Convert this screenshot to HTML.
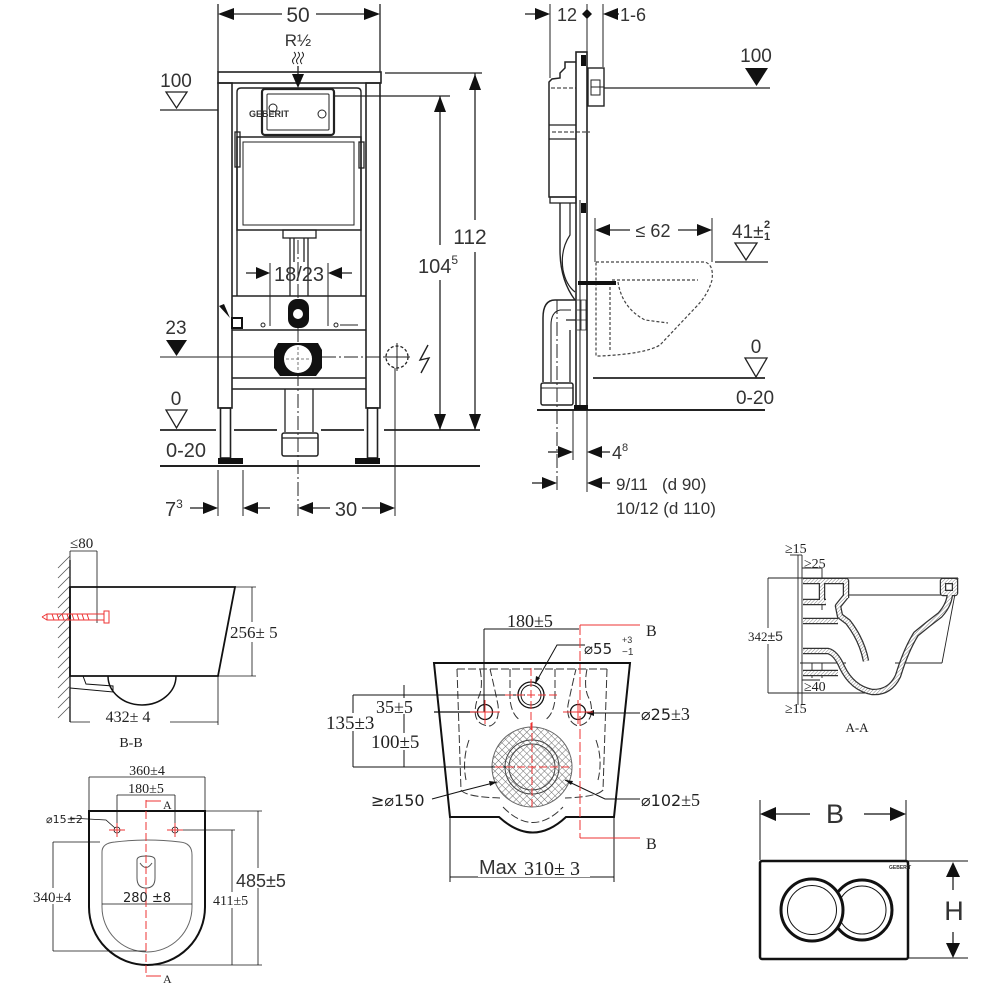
<!DOCTYPE html>
<html><head><meta charset="utf-8">
<style>html,body{margin:0;padding:0;background:#fff}svg{display:block}
.s{font-family:"Liberation Sans",Arial,sans-serif;fill:#333}
.r{font-family:"Liberation Serif","DejaVu Serif",serif;fill:#222}
.d{font-family:"DejaVu Sans","Liberation Sans",sans-serif;fill:#222}
</style></head>
<body>
<svg xmlns="http://www.w3.org/2000/svg" width="1000" height="1000" viewBox="0 0 1000 1000">
<defs>
<pattern id="xh" width="5" height="5" patternUnits="userSpaceOnUse" patternTransform="rotate(45)">
<path d="M0,0 L0,5 M0,0 L5,0" stroke="#666" stroke-width="0.9" fill="none"/>
</pattern>
<pattern id="hh" width="2.5" height="2.5" patternUnits="userSpaceOnUse" patternTransform="rotate(45)">
<rect width="2.5" height="2.5" fill="#fff"/>
<line x1="0" y1="0" x2="0" y2="2.5" stroke="#777" stroke-width="0.9"/>
</pattern>
</defs>

<!-- ================= TOP LEFT FRONT VIEW ================= -->
<g stroke="#222" stroke-width="1.3" fill="none">
 <line x1="218" y1="4" x2="218" y2="72"/>
 <line x1="380" y1="4" x2="380" y2="72"/>
 <line x1="230" y1="14" x2="282" y2="14"/>
 <line x1="316" y1="14" x2="368" y2="14"/>
 <path d="M294,52 q3,3 0,6 q-3,3 0,6 M298,52 q3,3 0,6 q-3,3 0,6 M302,52 q3,3 0,6 q-3,3 0,6" stroke-width="1"/>
 <line x1="298" y1="66" x2="298" y2="76"/>
 <rect x="218" y="72" width="163" height="11" stroke-width="1.6"/>
 <rect x="218" y="83" width="14" height="325" stroke-width="1.6"/>
 <rect x="366" y="83" width="14" height="325" stroke-width="1.6"/>
 <rect x="220.5" y="408" width="10" height="50" stroke-width="1.6"/>
 <rect x="367.5" y="408" width="10" height="50" stroke-width="1.6"/>
 <path d="M237,296 L237,92 Q237,88 241,88 L357,88 Q361,88 361,92 L361,296" stroke-width="1.4"/>
 <rect x="262" y="89" width="72" height="46" rx="3" stroke-width="2.2"/>
 <rect x="267" y="94" width="62" height="36" rx="1" stroke-width="1"/>
 <circle cx="273" cy="108" r="4" stroke-width="1"/>
 <circle cx="322" cy="114" r="4" stroke-width="1"/>
 <line x1="334" y1="96" x2="450" y2="96"/>
 <rect x="237" y="137" width="124" height="93" stroke-width="1.5"/>
 <rect x="243" y="142" width="111" height="83" stroke-width="1"/>
 <rect x="235" y="132" width="5" height="35" stroke-width="1.3"/>
 <rect x="359" y="142" width="5" height="26" stroke-width="1.3"/>
 <rect x="283" y="230" width="33" height="8" stroke-width="1.3"/>
 <line x1="290" y1="238" x2="290" y2="296"/>
 <line x1="308" y1="238" x2="308" y2="296"/>
 <line x1="294" y1="238" x2="294" y2="262"/>
 <line x1="304" y1="238" x2="304" y2="262"/>
 <line x1="232" y1="296" x2="366" y2="296" stroke-width="1.6"/>
 <line x1="232" y1="330" x2="366" y2="330" stroke-width="1.6"/>
 <line x1="232" y1="378" x2="366" y2="378" stroke-width="1.6"/>
 <line x1="232" y1="389" x2="366" y2="389" stroke-width="1.6"/>
 <line x1="270" y1="263" x2="270" y2="326" stroke-width="1"/>
 <line x1="328" y1="263" x2="328" y2="326" stroke-width="1"/>
 <line x1="246" y1="273" x2="258" y2="273"/>
 <line x1="340" y1="273" x2="352" y2="273"/>
 <circle cx="263" cy="325" r="2" stroke-width="1"/>
 <circle cx="336" cy="325" r="2" stroke-width="1"/>
 <line x1="340" y1="325" x2="358" y2="325" stroke-width="1"/>
 <line x1="285" y1="389" x2="285" y2="432"/>
 <line x1="313" y1="389" x2="313" y2="432"/>
 <rect x="282" y="433" width="36" height="23" rx="2" stroke-width="1.5"/>
 <line x1="282" y1="438" x2="318" y2="438"/>
 <line x1="298" y1="240" x2="298" y2="516" stroke-width="1" stroke-dasharray="14 3 2 3"/>
 <line x1="160" y1="357" x2="274" y2="357" stroke-width="1"/>
 <line x1="322" y1="357" x2="386" y2="357" stroke-width="1" stroke-dasharray="14 3 2 3"/>
 <circle cx="397" cy="357" r="11" stroke-dasharray="3 2" stroke-width="1.3"/>
 <line x1="397" y1="343" x2="397" y2="371" stroke-width="1"/>
 <line x1="385" y1="357" x2="410" y2="357" stroke-width="1"/>
 <path d="M428,345 L420,360 L429,358 L421,373" stroke-width="1.4"/>
 <line x1="395" y1="368" x2="395" y2="516" stroke-width="1"/>
 <polygon points="166,92 187,92 176.5,108" stroke-width="1.3"/>
 <line x1="160" y1="110" x2="218" y2="110"/>
 <polygon points="166,410 187,410 176.5,428" stroke-width="1.3"/>
 <path d="M160,430 L216,430 M234,430 L277,430 M321,430 L364,430 M384,430 L480,430" stroke-width="1.8"/>
 <line x1="160" y1="466" x2="480" y2="466" stroke-width="2"/>
 <line x1="440" y1="96" x2="440" y2="245"/>
 <line x1="440" y1="280" x2="440" y2="430"/>
 <line x1="385" y1="73" x2="482" y2="73"/>
 <line x1="475" y1="73" x2="475" y2="220"/>
 <line x1="475" y1="252" x2="475" y2="430"/>
 <line x1="218" y1="470" x2="218" y2="516" stroke-width="1"/>
 <line x1="243" y1="470" x2="243" y2="516" stroke-width="1"/>
 <line x1="190" y1="508" x2="205" y2="508"/>
 <line x1="256" y1="508" x2="270" y2="508"/>
 <line x1="310" y1="508" x2="330" y2="508"/>
 <line x1="362" y1="508" x2="383" y2="508"/>
</g>
<g fill="#111">
 <polygon points="218,14 234,8 234,20"/>
 <polygon points="380,14 364,8 364,20"/>
 <polygon points="298,88 292,74 304,74"/>
 <rect x="218" y="458" width="25" height="6"/>
 <rect x="355" y="458" width="25" height="6"/>
 <rect x="232" y="318" width="10" height="10" fill="#fff" stroke="#111" stroke-width="2"/>
 <polygon points="230,318 219,306 224,304"/>
 <polygon points="270,273 256,267 256,279"/>
 <polygon points="328,273 342,267 342,279"/>
 <rect x="288" y="299" width="21" height="29" rx="9"/>
 <path d="M278,343 L318,343 L322,350 L322,368 L316,376 L280,376 L274,368 L274,350 Z"/>
 <polygon points="176.5,356 166,340 187,340"/>
 <polygon points="440,96 434,112 446,112"/>
 <polygon points="440,430 434,414 446,414"/>
 <polygon points="475,74 469,90 481,90"/>
 <polygon points="475,430 469,414 481,414"/>
 <polygon points="218,508 203,502 203,514"/>
 <polygon points="243,508 258,502 258,514"/>
 <polygon points="298,508 313,502 313,514"/>
 <polygon points="395,508 380,502 380,514"/>
</g>
<circle cx="298" cy="314" r="5" fill="#fff"/>
<circle cx="298" cy="359" r="14" fill="#fff"/>
<path d="M298,347 L298,371 M286,359 L310,359" stroke="#555" stroke-width="0.8" stroke-dasharray="3 2"/>
<text x="249" y="117" class="s" font-size="9" font-weight="bold" fill="#333">GEBERIT</text>
<text x="298" y="22" class="s" font-size="21" text-anchor="middle">50</text>
<text x="298" y="46" class="s" font-size="17" text-anchor="middle">R½</text>
<text x="176" y="87" class="s" font-size="19" text-anchor="middle">100</text>
<text x="176" y="334" class="s" font-size="19" text-anchor="middle">23</text>
<text x="176" y="405" class="s" font-size="19" text-anchor="middle">0</text>
<text x="186" y="457" class="s" font-size="20" text-anchor="middle">0-20</text>
<text x="299" y="281" class="s" font-size="20" text-anchor="middle">18/23</text>
<text x="418" y="273" class="s" font-size="20">104<tspan font-size="12" dy="-9">5</tspan></text>
<text x="470" y="244" class="s" font-size="21" text-anchor="middle">112</text>
<text x="165" y="516" class="s" font-size="20">7<tspan font-size="12" dy="-8">3</tspan></text>
<text x="346" y="516" class="s" font-size="20" text-anchor="middle">30</text>

<!-- ================= TOP RIGHT SIDE VIEW ================= -->
<g stroke="#222" stroke-width="1.3" fill="none">
 <line x1="550" y1="4" x2="550" y2="78" stroke-width="1"/>
 <line x1="587" y1="4" x2="587" y2="52" stroke-width="1"/>
 <line x1="603" y1="4" x2="603" y2="67" stroke-width="1"/>
 <line x1="525" y1="14" x2="537" y2="14"/>
 <line x1="615" y1="14" x2="619" y2="14"/>
 <rect x="576" y="52" width="11" height="355" stroke-width="1.6"/>
 <line x1="580" y1="200" x2="580" y2="405" stroke-width="1"/>
 <path d="M576,62 L565,62 L565,68 L560,73 L560,78 L552,79 L549,82 L549,197 L576,197" stroke-width="1.5"/>
 <line x1="551" y1="88" x2="576" y2="88" stroke-dasharray="4 2" stroke-width="1"/>
 <line x1="549" y1="125" x2="576" y2="125"/>
 <line x1="549" y1="139" x2="576" y2="139"/>
 <line x1="552" y1="132" x2="590" y2="132" stroke-dasharray="4 2" stroke-width="1"/>
 <rect x="588" y="68" width="16" height="38" stroke-width="1.4"/>
 <path d="M591,80 L600,80 L600,95 L591,95 Z M591,87 L604,87" stroke-width="1"/>
 <line x1="604" y1="88" x2="770" y2="88"/>
 <rect x="550" y="197" width="26" height="6" stroke-width="1.3"/>
 <path d="M560,203 L560,250 Q560,280 575,300" stroke-width="1.4"/>
 <path d="M570,203 L570,235 Q560,250 563,270 Q566,285 575,292" stroke-width="1.2"/>
 <path d="M576,300 L555,300 Q543,300 543,318 L543,382" stroke-width="1.5"/>
 <path d="M571,310 L560,310 Q551,312 551,325 L551,382" stroke-width="1.1"/>
 <path d="M570,330 L570,382 M566,320 L576,320" stroke-width="1.3"/>
 <rect x="541" y="383" width="32" height="22" rx="2" stroke-width="1.5"/>
 <line x1="541" y1="388" x2="573" y2="388" stroke-width="1"/>
 <line x1="557" y1="300" x2="557" y2="490" stroke-width="1" stroke-dasharray="14 3 2 3"/>
 <path d="M577,300 L586,300 L586,330 L577,330 M577,310 L586,310 M577,320 L586,320 M581,300 L581,330" stroke-width="0.8"/>
 <line x1="537" y1="410" x2="765" y2="410" stroke-width="2"/>
 <line x1="593" y1="378" x2="765" y2="378" stroke-width="1.8"/>
 <polygon points="745,358 767,358 756,377"/>
 <polygon points="735,243 757,243 746,260"/>
 <line x1="715" y1="262" x2="768" y2="262"/>
 <line x1="595" y1="218" x2="595" y2="262" stroke-width="1"/>
 <line x1="712" y1="218" x2="712" y2="262" stroke-width="1"/>
 <line x1="610" y1="230" x2="630" y2="230"/>
 <line x1="678" y1="230" x2="697" y2="230"/>
 <g stroke-dasharray="3 2" stroke-width="1.2" stroke="#444">
  <path d="M596,262 L705,262 Q714,265 712,280 Q708,295 695,308 L660,345 Q645,354 600,356 L596,356 Z"/>
  <path d="M612,280 L698,280"/>
  <path d="M618,282 Q622,308 645,320 L668,323"/>
  <path d="M610,282 L610,352"/>
 </g>
 <line x1="573" y1="410" x2="573" y2="460" stroke-width="1"/>
 <line x1="587" y1="410" x2="587" y2="492" stroke-width="1"/>
 <line x1="548" y1="452" x2="560" y2="452"/>
 <line x1="600" y1="452" x2="610" y2="452"/>
 <line x1="532" y1="483" x2="544" y2="483"/>
 <line x1="600" y1="483" x2="610" y2="483"/>
</g>
<g fill="#111">
 <polygon points="550,14 535,8 535,20"/>
 <polygon points="587,9 592,14 587,19 582,14"/>
 <polygon points="603,14 618,8 618,20"/>
 <rect x="581" y="55" width="5" height="11"/>
 <rect x="581" y="203" width="5" height="10"/>
 <polygon points="756.5,86 745,68 768,68"/>
 <polygon points="595,230 610,224 610,236"/>
 <polygon points="712,230 697,224 697,236"/>
 <rect x="578" y="281" width="38" height="4"/>
 <rect x="574" y="405" width="14" height="5"/>
 <polygon points="573,452 558,446 558,458"/>
 <polygon points="587,452 602,446 602,458"/>
 <polygon points="557,483 542,477 542,489"/>
 <polygon points="587,483 602,477 602,489"/>
</g>
<text x="567" y="21" class="s" font-size="18" text-anchor="middle">12</text>
<text x="620" y="21" class="s" font-size="18">1-6</text>
<text x="756" y="62" class="s" font-size="19" text-anchor="middle">100</text>
<text x="653" y="237" class="s" font-size="18" text-anchor="middle">≤ 62</text>
<text x="732" y="238" class="s" font-size="19">41±</text>
<text x="764" y="228" class="s" font-size="11" font-weight="bold">2</text>
<text x="764" y="240" class="s" font-size="11" font-weight="bold">1</text>
<text x="756" y="353" class="s" font-size="19" text-anchor="middle">0</text>
<text x="755" y="404" class="s" font-size="19" text-anchor="middle">0-20</text>
<text x="612" y="459" class="s" font-size="18">4<tspan font-size="11" dy="-8">8</tspan></text>
<text x="616" y="490" class="s" font-size="17" xml:space="preserve">9/11   (d 90)</text>
<text x="616" y="514" class="s" font-size="17">10/12 (d 110)</text>

<!-- ================= B-B SECTION ================= -->
<g stroke="#111" stroke-width="1.1" fill="none">
 <line x1="70" y1="551" x2="97" y2="551" stroke-width="0.8"/>
 <line x1="70" y1="551" x2="70" y2="560" stroke-width="0.8"/>
 <line x1="97" y1="551" x2="97" y2="623" stroke-width="0.8"/>
 <line x1="70" y1="560" x2="70" y2="722" stroke-width="1.3"/>
 <path d="M58,568 L70,556 M58,578 L70,566 M58,588 L70,576 M58,598 L70,586 M58,608 L70,596 M58,618 L70,606 M58,628 L70,616 M58,638 L70,626 M58,648 L70,636 M58,658 L70,646 M58,668 L70,656 M58,678 L70,666 M58,688 L70,676 M58,698 L70,686 M58,708 L70,696 M58,718 L70,706" stroke-width="0.8" stroke="#555"/>
 <polygon points="70,587 235,587 218,676 70,676" stroke-width="1.8"/>
 <path d="M108,676 A34,29 0 0 0 176,676" stroke-width="1.5"/>
 <path d="M70,688 L113,692 L113,686 L86,684 L83,676" stroke-width="1"/>
 <line x1="235" y1="587" x2="256" y2="587" stroke-width="0.8"/>
 <line x1="218" y1="676" x2="256" y2="676" stroke-width="0.8"/>
 <line x1="252" y1="587" x2="252" y2="676" stroke-width="0.8"/>
 <line x1="218" y1="676" x2="218" y2="725" stroke-width="0.8"/>
 <line x1="70" y1="722" x2="218" y2="722" stroke-width="0.8"/>
</g>
<g stroke="#e33" stroke-width="1" fill="none">
 <rect x="47" y="614" width="57" height="6"/>
 <rect x="104" y="611" width="5" height="12"/>
 <path d="M42,617 L47,614 M47,620 L42,617 M52,614 L54,620 M57,614 L59,620 M62,614 L64,620 M67,614 L69,620 M72,614 L74,620 M77,614 L79,620 M82,614 L84,620 M87,614 L89,620"/>
</g>
<rect x="236" y="622" width="42" height="20" fill="#fff"/>
<text x="230" y="638" class="r" font-size="17">256± 5</text>
<rect x="90" y="707" width="80" height="16" fill="#fff"/>
<text x="128" y="722" class="r" font-size="16" text-anchor="middle">432± 4</text>
<text x="131" y="747" class="r" font-size="14" text-anchor="middle">B-B</text>
<text x="70" y="548" class="r" font-size="15">≤80</text>

<!-- ================= TOP VIEW (BOTTOM LEFT) ================= -->
<g stroke="#111" stroke-width="0.8" fill="none">
 <line x1="89" y1="777" x2="205" y2="777"/>
 <line x1="89" y1="777" x2="89" y2="811"/>
 <line x1="205" y1="777" x2="205" y2="811"/>
 <line x1="117" y1="795" x2="175" y2="795"/>
 <line x1="117" y1="795" x2="117" y2="830"/>
 <line x1="175" y1="795" x2="175" y2="830"/>
 <path d="M89,811 L205,811 L205,907 A58,58 0 0 1 89,907 Z" stroke-width="2"/>
 <path d="M102,852 Q102,843 115,842 Q147,838 180,842 Q192,843 192,855 L192,907 A45,45 0 0 1 102,907 Z" stroke="#666" stroke-width="1"/>
 <path d="M137,860 Q137,856 146,856 Q155,856 155,860 L155,878 Q155,888 146,888 Q137,888 137,878 Z" stroke="#555" stroke-width="1"/>
 <path d="M140,863 Q146,872 152,863" stroke="#555" stroke-width="1"/>
 <circle cx="117" cy="830" r="3"/>
 <circle cx="175" cy="830" r="3"/>
 <path d="M70,818 L106,820 L115,828"/>
 <line x1="53" y1="842" x2="53" y2="951"/>
 <line x1="53" y1="842" x2="100" y2="842"/>
 <line x1="53" y1="951" x2="146" y2="951"/>
 <line x1="102" y1="904" x2="192" y2="904"/>
 <line x1="258" y1="811" x2="258" y2="965"/>
 <line x1="205" y1="811" x2="262" y2="811"/>
 <line x1="146" y1="965" x2="262" y2="965"/>
 <line x1="232" y1="830" x2="232" y2="965"/>
 <line x1="175" y1="830" x2="235" y2="830"/>
</g>
<g stroke="#e33" stroke-width="1" fill="none">
 <line x1="146" y1="800" x2="146" y2="976" stroke-dasharray="8 3"/>
 <line x1="146" y1="801" x2="161" y2="801"/>
 <line x1="146" y1="976" x2="161" y2="976"/>
 <path d="M109,830 L125,830 M117,823 L117,837 M167,830 L183,830 M175,823 L175,837"/>
</g>
<text x="147" y="775" class="r" font-size="14" text-anchor="middle">360±4</text>
<text x="146" y="793" class="r" font-size="14" text-anchor="middle">180±5</text>
<text x="163" y="809" class="r" font-size="12">A</text>
<text x="163" y="983" class="r" font-size="12">A</text>
<text x="46" y="823" class="d" font-size="11">⌀15±2</text>
<rect x="32" y="888" width="44" height="16" fill="#fff"/>
<text x="33" y="902" class="r" font-size="15" fill="#333">340±4</text>
<text x="147" y="902" class="d" font-size="13" text-anchor="middle">280 ±8</text>
<rect x="236" y="868" width="50" height="20" fill="#fff"/>
<text x="236" y="887" class="s" font-size="18" fill="#222">485±5</text>
<rect x="214" y="892" width="40" height="16" fill="#fff"/>
<text x="213" y="905" class="r" font-size="14" fill="#444">411±5</text>

<!-- ================= CENTER BOTTOM VIEW ================= -->
<circle cx="532" cy="767" r="40" fill="url(#xh)" stroke="#666" stroke-width="1"/>
<g stroke="#111" stroke-width="1" fill="none">
 <line x1="484" y1="629" x2="579" y2="629"/>
 <line x1="484" y1="629" x2="484" y2="712"/>
 <path d="M434,663 L630,663 L614,817 L566,817 Q533,848 499,817 L450,817 Z" stroke-width="2"/>
 <g stroke-dasharray="8 3" stroke="#333">
  <path d="M457,669 L607,669"/>
  <path d="M457,669 L461,790 Q466,797 500,798"/>
  <path d="M607,669 L603,790 Q597,797 565,798"/>
  <path d="M480,669 Q484,690 477,700 Q470,725 490,726 Q500,722 498,705 Q495,690 490,669"/>
  <path d="M587,669 Q583,690 590,700 Q596,722 578,726 Q566,722 568,705 Q571,690 576,669"/>
  <path d="M510,669 L510,700 Q512,715 520,720 M555,669 L555,700 Q553,715 545,720"/>
  <path d="M469,740 Q462,760 466,780 M596,740 Q603,760 598,780"/>
  <path d="M503,807 Q533,838 563,807"/>
 </g>
 <circle cx="531" cy="695" r="13" stroke-width="1.3"/>
 <circle cx="531" cy="695" r="10"/>
 <circle cx="485" cy="712" r="7.5" stroke-width="1.3"/>
 <circle cx="578" cy="712" r="7.5" stroke-width="1.3"/>
 <circle cx="532" cy="767" r="27" stroke="#444"/>
 <circle cx="532" cy="767" r="23" stroke="#444"/>
 <line x1="353" y1="695" x2="525" y2="695"/>
 <line x1="353" y1="767" x2="515" y2="767"/>
 <line x1="353" y1="695" x2="353" y2="767"/>
 <line x1="404" y1="685" x2="404" y2="767"/>
 <line x1="404" y1="712" x2="478" y2="712" stroke-width="1.2"/>
 <line x1="404" y1="712" x2="418" y2="712" stroke-width="2.5"/>
 <path d="M585,645 L557,645 L535,684"/>
 <path d="M640,713 L590,713"/>
 <path d="M640,799 L605,799 L565,780"/>
 <path d="M432,799 L458,792 L497,782"/>
 <line x1="450" y1="817" x2="450" y2="882"/>
 <line x1="614" y1="817" x2="614" y2="882"/>
 <line x1="450" y1="877" x2="614" y2="877"/>
</g>
<g fill="#111">
 <polygon points="586,713 594,710 594,716"/>
 <polygon points="535,684 536,676 540,678"/>
 <polygon points="565,780 573,781 571,785"/>
 <polygon points="497,782 489,781 490,786"/>
</g>
<g stroke="#e33" stroke-width="1" fill="none">
 <path d="M640,625 L580,625 M580,838 L640,838"/>
 <line x1="580" y1="625" x2="580" y2="838" stroke-dasharray="10 3"/>
 <path d="M505,695 L560,695 M531,668 L531,730" stroke-dasharray="8 3"/>
 <path d="M470,712 L500,712 M485,700 L485,724 M563,712 L593,712 M578,700 L578,724"/>
 <path d="M495,767 L572,767 M532,722 L532,810" stroke-dasharray="8 3"/>
</g>
<text x="530" y="627" class="r" font-size="18" text-anchor="middle">180±5</text>
<text x="646" y="636" class="r" font-size="16">B</text>
<text x="646" y="849" class="r" font-size="16">B</text>
<text x="584" y="654" class="d" font-size="15">⌀55</text>
<text x="622" y="643" class="s" font-size="9">+3</text>
<text x="622" y="655" class="s" font-size="10">−1</text>
<rect x="376" y="698" width="58" height="16" fill="#fff"/>
<text x="376" y="713" class="r" font-size="18">35±5</text>
<rect x="326" y="713" width="66" height="18" fill="#fff"/>
<text x="326" y="729" class="r" font-size="19">135±3</text>
<rect x="371" y="733" width="66" height="17" fill="#fff"/>
<text x="371" y="748" class="r" font-size="19">100±5</text>
<text x="641" y="720" class="d" font-size="16">⌀25<tspan class="r" font-size="18">±3</tspan></text>
<text x="641" y="806" class="d" font-size="16">⌀102<tspan class="r" font-size="18">±5</tspan></text>
<text x="371" y="806" class="d" font-size="16">≥⌀150</text>
<rect x="478" y="855" width="112" height="22" fill="#fff"/>
<text x="479" y="874" class="s" font-size="20" fill="#222">Max</text>
<text x="524" y="875" class="r" font-size="20">310± 3</text>

<!-- ================= A-A SECTION ================= -->
<g stroke="#222" stroke-width="0.9" fill="none">
 <line x1="798" y1="555" x2="798" y2="705"/>
 <line x1="802" y1="555" x2="802" y2="705"/>
 <line x1="790" y1="555" x2="802" y2="555"/>
 <line x1="802" y1="568" x2="822" y2="568"/>
 <line x1="822" y1="568" x2="822" y2="610"/>
 <line x1="768" y1="578" x2="958" y2="578"/>
 <line x1="768" y1="578" x2="768" y2="693"/>
 <line x1="768" y1="693" x2="880" y2="693"/>
 <line x1="958" y1="578" x2="942" y2="663"/>
 <line x1="800" y1="663" x2="846" y2="663"/>
 <line x1="895" y1="663" x2="942" y2="663"/>
 <line x1="845" y1="595" x2="942" y2="595"/>
 <line x1="802" y1="680" x2="820" y2="680"/>
 <line x1="812" y1="663" x2="812" y2="678"/>
 <line x1="822" y1="663" x2="822" y2="678"/>
</g>
<g fill="none" stroke-linecap="butt" stroke-linejoin="round">
 <g stroke="#333" stroke-width="6.5">
  <path d="M803,581 L846,581 L846,598"/>
  <path d="M822,581 L822,600"/>
  <path d="M803,602 L826,602"/>
  <path d="M803,621 L838,621"/>
  <path d="M846,596 L838,606 L840,616 L848,622 Q862,640 866,661"/>
  <path d="M803,651 L828,651 Q836,653 842,667 Q852,688 872,692 Q890,693 898,676 Q906,650 916,634 Q928,624 940,615 Q950,604 950,592"/>
  <path d="M803,673 L838,673"/>
  <path d="M943,581 L955,581 L955,593 L943,593 Z"/>
 </g>
 <g stroke="url(#hh)" stroke-width="4">
  <path d="M803,581 L846,581 L846,598"/>
  <path d="M822,581 L822,600"/>
  <path d="M803,602 L826,602"/>
  <path d="M803,621 L838,621"/>
  <path d="M846,596 L838,606 L840,616 L848,622 Q862,640 866,661"/>
  <path d="M803,651 L828,651 Q836,653 842,667 Q852,688 872,692 Q890,693 898,676 Q906,650 916,634 Q928,624 940,615 Q950,604 950,592"/>
  <path d="M803,673 L838,673"/>
  <path d="M943,581 L955,581 L955,593 L943,593 Z"/>
 </g>
</g>
<text x="785" y="553" class="r" font-size="14" fill="#333">≥15</text>
<text x="804" y="568" class="r" font-size="14" fill="#333">≥25</text>
<rect x="748" y="628" width="38" height="16" fill="#fff"/>
<text x="748" y="641" class="r" font-size="13" fill="#333">342<tspan class="s" font-size="14" fill="#223">±5</tspan></text>
<text x="804" y="691" class="r" font-size="14" fill="#333">≥40</text>
<text x="785" y="713" class="r" font-size="14" fill="#333">≥15</text>
<text x="857" y="732" class="r" font-size="13" text-anchor="middle" fill="#333">A-A</text>

<!-- ================= FLUSH PLATE ================= -->
<g stroke="#111" fill="none">
 <line x1="760" y1="800" x2="760" y2="860" stroke-width="1"/>
 <line x1="906" y1="800" x2="906" y2="860" stroke-width="1"/>
 <line x1="772" y1="814" x2="810" y2="814" stroke-width="1.2"/>
 <line x1="864" y1="814" x2="896" y2="814" stroke-width="1.2"/>
 <line x1="908" y1="861" x2="968" y2="861" stroke-width="1"/>
 <line x1="908" y1="958" x2="968" y2="958" stroke-width="1"/>
 <line x1="953" y1="872" x2="953" y2="890" stroke-width="1.2"/>
 <line x1="953" y1="932" x2="953" y2="948" stroke-width="1.2"/>
 <rect x="760" y="861" width="148" height="98" rx="2" stroke-width="2.5"/>
 <circle cx="862" cy="910" r="30" stroke-width="3" fill="#fff"/>
 <circle cx="862" cy="910" r="24" stroke-width="1"/>
 <circle cx="812" cy="910" r="31" stroke-width="3" fill="#fff"/>
 <circle cx="812" cy="910" r="24.5" stroke-width="1"/>
</g>
<g fill="#111">
 <polygon points="760,814 776,807 776,821"/>
 <polygon points="906,814 890,807 890,821"/>
 <polygon points="953,862 946,877 960,877"/>
 <polygon points="953,958 946,943 960,943"/>
</g>
<text x="889" y="869" class="s" font-size="5" font-weight="bold" fill="#222">GEBERIT</text>
<text x="835" y="823" class="s" font-size="27" text-anchor="middle" fill="#222">B</text>
<text x="954" y="920" class="s" font-size="27" text-anchor="middle" fill="#222">H</text>
</svg>
</body></html>
